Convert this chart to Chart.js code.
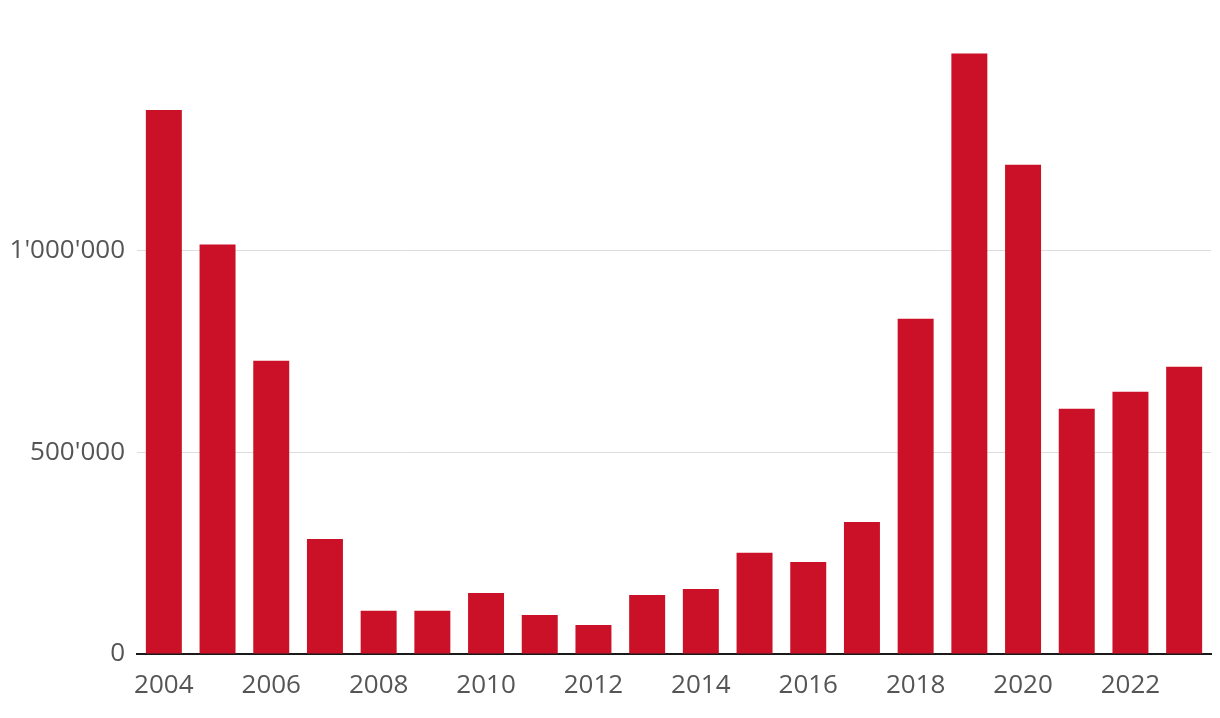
<!DOCTYPE html>
<html>
<head>
<meta charset="utf-8">
<script src="https://cdn.jsdelivr.net/npm/chart.js@4.4.1/dist/chart.umd.min.js"></script>
<style>
  html, body { margin: 0; padding: 0; background: #fff; }
  #wrap { width: 1220px; height: 718px; }
</style>
</head>
<body>
<div id="wrap"><canvas id="barChart"></canvas></div>
<script>
var years = ['2004', '2005', '2006', '2007', '2008', '2009', '2010', '2011', '2012', '2013',
             '2014', '2015', '2016', '2017', '2018', '2019', '2020', '2021', '2022', '2023'];
var values = [1349000, 1015000, 727000, 285000, 107000, 107000, 151000, 97000, 72000, 146000,
              161000, 251000, 228000, 327000, 831000, 1489000, 1213000, 608000, 650000, 712000];
var yTicks = [0, 500000, 1000000];

function fmt(n) {
    return String(n).replace(/\B(?=(\d{3})+(?!\d))/g, "'");
}

document.addEventListener("DOMContentLoaded", function() {
    var ctx = document.getElementById('barChart').getContext('2d');
    var tickFont = { family: "'Open Sans', sans-serif", size: 26 };

    new Chart(ctx, {
        type: 'bar',
        data: {
            labels: years,
            datasets: [{
                data: values,
                backgroundColor: '#cb1128',
                borderWidth: 0,
                categoryPercentage: 1,
                barPercentage: 0.67
            }]
        },
        options: {
            responsive: true,
            maintainAspectRatio: false,
            animation: false,
            layout: { padding: { top: 49, right: 9, left: 0, bottom: 0 } },
            plugins: { legend: { display: false }, tooltip: { enabled: false } },
            scales: {
                x: {
                    grid: { display: false, drawTicks: false },
                    border: { display: true, color: '#1a1a1a', width: 2 },
                    ticks: {
                        autoSkip: false,
                        maxRotation: 0,
                        padding: 16,
                        color: '#555',
                        font: tickFont,
                        callback: function(v, i) { return i % 2 === 0 ? years[i] : ''; }
                    },
                    afterFit: function(scale) { scale.height = 64; }
                },
                y: {
                    min: 0,
                    max: 1500000,
                    afterBuildTicks: function(scale) {
                        scale.ticks = yTicks.map(function(v) { return { value: v }; });
                    },
                    grid: { color: '#dddddd', lineWidth: 1, drawTicks: false },
                    border: { display: false },
                    ticks: {
                        padding: 12,
                        color: '#555',
                        font: tickFont,
                        callback: function(v) { return fmt(v); }
                    },
                    afterFit: function(scale) { scale.width = 137; }
                }
            }
        }
    });
});
</script>
</body>
</html>
